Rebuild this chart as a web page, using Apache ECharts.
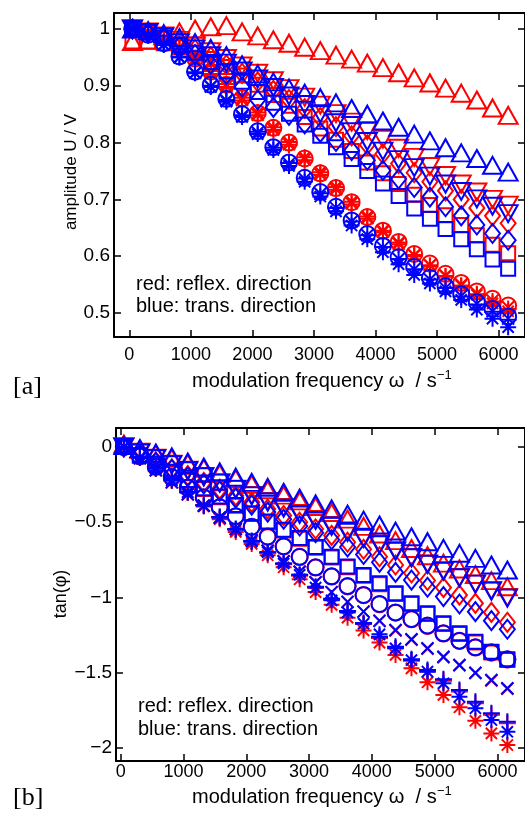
<!DOCTYPE html>
<html>
<head>
<meta charset="utf-8">
<script src="https://cdn.jsdelivr.net/npm/echarts@6/dist/echarts.min.js"></script>
<style>
html,body{margin:0;padding:0;background:#fff;}
#chart{width:525px;height:816px;}
</style>
</head>
<body>
<div id="chart"></div>
<script>
// ---------- data ----------
const omega = [50, 305, 559, 814, 1068, 1323, 1577, 1832, 2086, 2341, 2595, 2850, 3104, 3359, 3613, 3868, 4122, 4377, 4631, 4886, 5140, 5395, 5649, 5904, 6158];

const xTicks = [0, 1000, 2000, 3000, 4000, 5000, 6000];
const ampTicks = [0.5, 0.6, 0.7, 0.8, 0.9, 1];
const tanTicks = [-2, -1.5, -1, -0.5, 0];

// panel (a): amplitude U / V
const ampRedTriUp    = [0.978, 0.980, 0.988, 0.995, 1.000, 1.004, 1.006, 0.995, 0.988, 0.981, 0.975, 0.968, 0.962, 0.954, 0.947, 0.940, 0.932, 0.923, 0.914, 0.905, 0.896, 0.887, 0.875, 0.861, 0.848];
const ampBlueTriUp   = [1.000, 0.997, 0.992, 0.985, 0.976, 0.966, 0.953, 0.937, 0.921, 0.907, 0.896, 0.887, 0.879, 0.870, 0.860, 0.850, 0.838, 0.827, 0.815, 0.803, 0.791, 0.782, 0.772, 0.760, 0.748];
const ampRedTriDown  = [1.000, 0.995, 0.988, 0.980, 0.970, 0.960, 0.948, 0.935, 0.922, 0.909, 0.895, 0.880, 0.866, 0.851, 0.836, 0.821, 0.806, 0.790, 0.774, 0.758, 0.742, 0.727, 0.713, 0.700, 0.690];
const ampBlueTriDown = [1.000, 0.994, 0.986, 0.976, 0.965, 0.953, 0.940, 0.926, 0.912, 0.897, 0.882, 0.867, 0.851, 0.835, 0.819, 0.802, 0.785, 0.770, 0.756, 0.741, 0.727, 0.714, 0.701, 0.688, 0.675];
const ampRedDiamond  = [1.000, 0.994, 0.986, 0.976, 0.964, 0.951, 0.937, 0.922, 0.907, 0.892, 0.876, 0.860, 0.844, 0.828, 0.812, 0.796, 0.780, 0.763, 0.747, 0.731, 0.715, 0.700, 0.685, 0.671, 0.658];
const ampBlueDiamond = [1.000, 0.993, 0.983, 0.970, 0.955, 0.938, 0.920, 0.898, 0.875, 0.862, 0.848, 0.833, 0.818, 0.802, 0.786, 0.769, 0.751, 0.736, 0.721, 0.704, 0.687, 0.671, 0.655, 0.640, 0.628];
const ampRedSquare   = [0.978, 0.978, 0.975, 0.968, 0.958, 0.947, 0.933, 0.918, 0.902, 0.884, 0.865, 0.845, 0.825, 0.805, 0.785, 0.765, 0.746, 0.727, 0.708, 0.690, 0.672, 0.655, 0.637, 0.620, 0.605];
const ampBlueSquare  = [1.000, 0.995, 0.985, 0.972, 0.958, 0.942, 0.925, 0.907, 0.889, 0.870, 0.851, 0.832, 0.812, 0.792, 0.771, 0.750, 0.728, 0.706, 0.684, 0.666, 0.648, 0.630, 0.612, 0.594, 0.578];
const ampRedCircle   = [1.000, 0.995, 0.985, 0.968, 0.948, 0.925, 0.902, 0.878, 0.852, 0.826, 0.800, 0.772, 0.746, 0.720, 0.695, 0.669, 0.645, 0.625, 0.604, 0.587, 0.569, 0.553, 0.538, 0.525, 0.513];
const ampBlueCircle  = [1.000, 0.990, 0.975, 0.952, 0.925, 0.902, 0.877, 0.850, 0.820, 0.792, 0.765, 0.738, 0.713, 0.687, 0.663, 0.639, 0.618, 0.598, 0.581, 0.562, 0.547, 0.533, 0.519, 0.507, 0.494];
const ampRedCross    = [0.999, 0.993, 0.982, 0.965, 0.945, 0.922, 0.899, 0.875, 0.849, 0.823, 0.797, 0.770, 0.744, 0.718, 0.693, 0.667, 0.643, 0.622, 0.601, 0.584, 0.566, 0.550, 0.535, 0.522, 0.510];
const ampBlueCross   = [1.000, 0.989, 0.973, 0.950, 0.923, 0.899, 0.874, 0.847, 0.818, 0.790, 0.763, 0.736, 0.710, 0.685, 0.661, 0.637, 0.615, 0.595, 0.577, 0.559, 0.544, 0.530, 0.516, 0.503, 0.490];
const ampRedPlus     = [1.000, 0.992, 0.981, 0.964, 0.944, 0.921, 0.898, 0.874, 0.848, 0.822, 0.796, 0.769, 0.743, 0.717, 0.691, 0.666, 0.642, 0.621, 0.600, 0.582, 0.564, 0.548, 0.533, 0.520, 0.507];
const ampBluePlus    = [1.002, 0.990, 0.974, 0.951, 0.924, 0.900, 0.875, 0.848, 0.819, 0.791, 0.764, 0.737, 0.711, 0.685, 0.661, 0.637, 0.616, 0.595, 0.577, 0.559, 0.544, 0.529, 0.515, 0.502, 0.488];
const ampRedStar     = [1.000, 0.995, 0.984, 0.967, 0.948, 0.926, 0.903, 0.879, 0.853, 0.827, 0.801, 0.774, 0.748, 0.722, 0.696, 0.670, 0.645, 0.624, 0.602, 0.584, 0.565, 0.548, 0.532, 0.517, 0.503];
const ampBlueStar    = [1.003, 0.990, 0.972, 0.950, 0.922, 0.898, 0.872, 0.845, 0.815, 0.787, 0.759, 0.731, 0.705, 0.679, 0.654, 0.630, 0.607, 0.586, 0.567, 0.552, 0.538, 0.523, 0.506, 0.490, 0.475];

// panel (b): tan(phi)
const tanRedTriUp    = [0.020, -0.015, -0.045, -0.075, -0.108, -0.142, -0.176, -0.212, -0.248, -0.284, -0.320, -0.358, -0.396, -0.436, -0.480, -0.528, -0.579, -0.623, -0.675, -0.723, -0.772, -0.811, -0.848, -0.889, -0.929];
const tanBlueTriUp   = [0.010, -0.010, -0.040, -0.066, -0.100, -0.133, -0.165, -0.201, -0.235, -0.268, -0.301, -0.340, -0.379, -0.412, -0.446, -0.486, -0.519, -0.559, -0.597, -0.630, -0.674, -0.707, -0.741, -0.785, -0.818];
const tanRedTriDown  = [0.000, -0.035, -0.075, -0.115, -0.155, -0.195, -0.238, -0.280, -0.322, -0.362, -0.402, -0.442, -0.482, -0.522, -0.562, -0.603, -0.645, -0.690, -0.734, -0.778, -0.823, -0.867, -0.910, -0.956, -1.000];
const tanBlueTriDown = [0.000, -0.040, -0.078, -0.118, -0.158, -0.198, -0.240, -0.282, -0.325, -0.366, -0.407, -0.448, -0.488, -0.528, -0.568, -0.608, -0.650, -0.693, -0.737, -0.780, -0.826, -0.870, -0.912, -0.958, -1.005];
const tanRedDiamond  = [0.000, -0.050, -0.100, -0.145, -0.190, -0.235, -0.280, -0.324, -0.368, -0.412, -0.456, -0.500, -0.545, -0.588, -0.633, -0.680, -0.730, -0.785, -0.838, -0.888, -0.935, -0.985, -1.040, -1.100, -1.166];
const tanBlueDiamond = [0.000, -0.052, -0.102, -0.150, -0.198, -0.246, -0.293, -0.340, -0.386, -0.433, -0.480, -0.525, -0.570, -0.617, -0.665, -0.715, -0.767, -0.834, -0.885, -0.933, -0.995, -1.044, -1.095, -1.155, -1.212];
const tanRedSquare   = [0.000, -0.058, -0.115, -0.170, -0.225, -0.280, -0.335, -0.390, -0.445, -0.500, -0.555, -0.610, -0.670, -0.735, -0.800, -0.856, -0.912, -0.978, -1.045, -1.111, -1.178, -1.244, -1.300, -1.366, -1.417];
const tanBlueSquare  = [0.000, -0.055, -0.110, -0.165, -0.220, -0.275, -0.330, -0.385, -0.440, -0.495, -0.550, -0.605, -0.665, -0.730, -0.795, -0.851, -0.907, -0.973, -1.040, -1.106, -1.173, -1.239, -1.295, -1.361, -1.412];
const tanRedCircle   = [0.000, -0.062, -0.132, -0.202, -0.272, -0.338, -0.402, -0.462, -0.532, -0.598, -0.662, -0.732, -0.802, -0.862, -0.927, -0.986, -1.046, -1.102, -1.146, -1.190, -1.241, -1.290, -1.334, -1.368, -1.414];
const tanBlueCircle  = [0.000, -0.060, -0.130, -0.200, -0.270, -0.335, -0.400, -0.460, -0.530, -0.595, -0.660, -0.730, -0.800, -0.860, -0.925, -0.984, -1.044, -1.100, -1.144, -1.188, -1.239, -1.288, -1.332, -1.365, -1.412];
const tanRedCross    = [0.000, -0.075, -0.155, -0.235, -0.315, -0.390, -0.470, -0.545, -0.620, -0.690, -0.760, -0.830, -0.900, -0.965, -1.030, -1.095, -1.158, -1.220, -1.282, -1.342, -1.398, -1.452, -1.504, -1.553, -1.608];
const tanBlueCross   = [0.000, -0.075, -0.155, -0.235, -0.315, -0.390, -0.470, -0.545, -0.620, -0.690, -0.760, -0.830, -0.900, -0.965, -1.030, -1.095, -1.155, -1.217, -1.279, -1.339, -1.395, -1.450, -1.501, -1.550, -1.605];
const tanRedPlus     = [0.000, -0.070, -0.142, -0.222, -0.302, -0.388, -0.468, -0.548, -0.628, -0.704, -0.780, -0.856, -0.936, -1.016, -1.096, -1.178, -1.270, -1.338, -1.422, -1.493, -1.555, -1.626, -1.704, -1.781, -1.838];
const tanBluePlus    = [0.000, -0.070, -0.140, -0.220, -0.300, -0.385, -0.465, -0.545, -0.625, -0.700, -0.775, -0.850, -0.930, -1.010, -1.090, -1.170, -1.262, -1.328, -1.412, -1.483, -1.545, -1.616, -1.694, -1.771, -1.827];
const tanRedStar     = [0.000, -0.070, -0.145, -0.225, -0.305, -0.395, -0.480, -0.565, -0.645, -0.720, -0.800, -0.880, -0.965, -1.050, -1.135, -1.220, -1.301, -1.383, -1.472, -1.565, -1.649, -1.731, -1.821, -1.905, -1.982];
const tanBlueStar    = [0.000, -0.070, -0.140, -0.220, -0.300, -0.390, -0.470, -0.550, -0.630, -0.700, -0.775, -0.850, -0.935, -1.020, -1.100, -1.175, -1.246, -1.339, -1.417, -1.494, -1.572, -1.661, -1.738, -1.816, -1.894];

// ---------- styles ----------
const RED = '#ff0000', BLUE = '#0000ff';
const FONT = '"Liberation Sans", Arial, Helvetica, sans-serif';
const SERIF = '"Liberation Serif", "DejaVu Serif", serif';

const markerStyle = {
  triUp:   {symbol: 'triangle', size: [19, 17], rotate: 0},
  triDown: {symbol: 'triangle', size: [19, 17], rotate: 180},
  diamond: {symbol: 'diamond', size: [15, 19], rotate: 0},
  square:  {symbol: 'rect', size: [14, 14], rotate: 0},
  circle:  {symbol: 'circle', size: [16, 16], rotate: 0},
  cross:   {symbol: 'path://M0,0L10,10M10,0L0,10', size: [12, 12], rotate: 0},
  plus:    {symbol: 'path://M5,0L5,10M0,5L10,5', size: [17, 17], rotate: 0},
  star:    {symbol: 'path://M5,0L5,10M0,5L10,5M1.5,1.5L8.5,8.5M8.5,1.5L1.5,8.5', size: [16, 16], rotate: 0}
};

const ampSets = [
  ['triUp', RED, ampRedTriUp], ['triDown', RED, ampRedTriDown], ['diamond', RED, ampRedDiamond], ['square', RED, ampRedSquare],
  ['circle', RED, ampRedCircle], ['cross', RED, ampRedCross], ['plus', RED, ampRedPlus], ['star', RED, ampRedStar],
  ['triUp', BLUE, ampBlueTriUp], ['triDown', BLUE, ampBlueTriDown], ['diamond', BLUE, ampBlueDiamond], ['square', BLUE, ampBlueSquare],
  ['circle', BLUE, ampBlueCircle], ['cross', BLUE, ampBlueCross], ['plus', BLUE, ampBluePlus], ['star', BLUE, ampBlueStar]
];
const tanSets = [
  ['triUp', RED, tanRedTriUp], ['triDown', RED, tanRedTriDown], ['diamond', RED, tanRedDiamond], ['square', RED, tanRedSquare],
  ['circle', RED, tanRedCircle], ['cross', RED, tanRedCross], ['plus', RED, tanRedPlus], ['star', RED, tanRedStar],
  ['triUp', BLUE, tanBlueTriUp], ['triDown', BLUE, tanBlueTriDown], ['diamond', BLUE, tanBlueDiamond], ['square', BLUE, tanBlueSquare],
  ['circle', BLUE, tanBlueCircle], ['cross', BLUE, tanBlueCross], ['plus', BLUE, tanBluePlus], ['star', BLUE, tanBlueStar]
];

function makeSeries(sets, axisIndex) {
  return sets.map(([m, color, vals]) => {
    const ms = markerStyle[m];
    return {
      type: 'scatter',
      xAxisIndex: axisIndex, yAxisIndex: axisIndex,
      symbol: ms.symbol, symbolSize: ms.size, symbolRotate: ms.rotate,
      itemStyle: {color: 'rgba(0,0,0,0)', borderColor: color, borderWidth: 2, opacity: 1},
      emphasis: {disabled: true},
      clip: false,
      z: 3,
      data: omega.map((x, i) => [x, vals[i]])
    };
  });
}

function xAxisPair(grid, min, max, labelMargin) {
  const line = {show: true, onZero: false, lineStyle: {color: '#000', width: 2}};
  const tick = {show: true, inside: true, length: 7, customValues: xTicks, lineStyle: {color: '#000', width: 1.5}};
  return [
    {gridIndex: grid, type: 'value', min, max, position: 'bottom', axisLine: line,
     axisTick: tick, splitLine: {show: false},
     axisLabel: {customValues: xTicks, margin: labelMargin, color: '#000', fontSize: 18, fontFamily: FONT,
                 formatter: v => String(v)}},
    {gridIndex: grid, type: 'value', min, max, position: 'top', axisLine: line,
     axisTick: tick, splitLine: {show: false}, axisLabel: {show: false}}
  ];
}
function yAxisPair(grid, min, max, ticks, fmt) {
  const line = {show: true, onZero: false, lineStyle: {color: '#000', width: 2}};
  const tick = {show: true, inside: true, length: 7, customValues: ticks, lineStyle: {color: '#000', width: 1.5}};
  return [
    {gridIndex: grid, type: 'value', min, max, position: 'left', axisLine: line,
     axisTick: tick, splitLine: {show: false},
     axisLabel: {customValues: ticks, margin: 4, color: '#000', fontSize: 19, fontFamily: FONT, formatter: fmt}},
    {gridIndex: grid, type: 'value', min, max, position: 'right', axisLine: line,
     axisTick: tick, splitLine: {show: false}, axisLabel: {show: false}}
  ];
}

const ampFmt = v => (Math.abs(v - 1) < 1e-9 ? '1' : v.toFixed(1));
const tanFmt = v => {
  if (Math.abs(v) < 1e-9) return '0';
  const s = Math.abs(v) % 1 === 0 ? String(Math.abs(v)) : Math.abs(v).toFixed(1);
  return '\u2212' + s;
};

const xa = xAxisPair(0, -250, 6432, 9);
const xb = xAxisPair(1, -75, 6439, 2);
const ya = yAxisPair(0, 0.4577, 1.0282, ampTicks, ampFmt);
const yb = yAxisPair(1, -2.0884, 0.1264, tanTicks, tanFmt);

const seriesA = makeSeries(ampSets, 0);
const seriesB = makeSeries(tanSets, 2);

function txt(x, y, text, font, align, vAlign, rot) {
  return {type: 'text', x, y, rotation: rot || 0, z: 10,
          style: {text, font, fill: '#000', textAlign: align, textVerticalAlign: vAlign}};
}

const chart = echarts.init(document.getElementById('chart'), null, {renderer: 'canvas'});
chart.setOption({
  animation: false,
  backgroundColor: '#fff',
  grid: [
    {left: 114, top: 13, width: 414, height: 324},
    {left: 116, top: 428, width: 413, height: 333}
  ],
  xAxis: [xa[0], xa[1], xb[0], xb[1]],
  yAxis: [ya[0], ya[1], yb[0], yb[1]],
  series: seriesA.concat(seriesB),
  graphic: [
    txt(71, 172, 'amplitude U / V', '17px ' + FONT, 'center', 'middle', Math.PI / 2),
    txt(61, 594, 'tan(\u03c6)', '18px ' + FONT, 'center', 'middle', Math.PI / 2),
    txt(192, 391, 'modulation frequency \u03c9  / s', '20px ' + FONT, 'left', 'bottom'),
    txt(437, 382, '\u22121', '13px ' + FONT, 'left', 'bottom'),
    txt(192, 807, 'modulation frequency \u03c9  / s', '20px ' + FONT, 'left', 'bottom'),
    txt(437, 798, '\u22121', '13px ' + FONT, 'left', 'bottom'),
    txt(136, 284, 'red: reflex. direction', '20px ' + FONT, 'left', 'middle'),
    txt(136, 306, 'blue: trans. direction', '20px ' + FONT, 'left', 'middle'),
    txt(138, 706, 'red: reflex. direction', '20px ' + FONT, 'left', 'middle'),
    txt(138, 729, 'blue: trans. direction', '20px ' + FONT, 'left', 'middle'),
    txt(13, 387, '[a]', '26px ' + SERIF, 'left', 'middle'),
    txt(13, 798, '[b]', '26px ' + SERIF, 'left', 'middle')
  ]
});
</script>
</body>
</html>
